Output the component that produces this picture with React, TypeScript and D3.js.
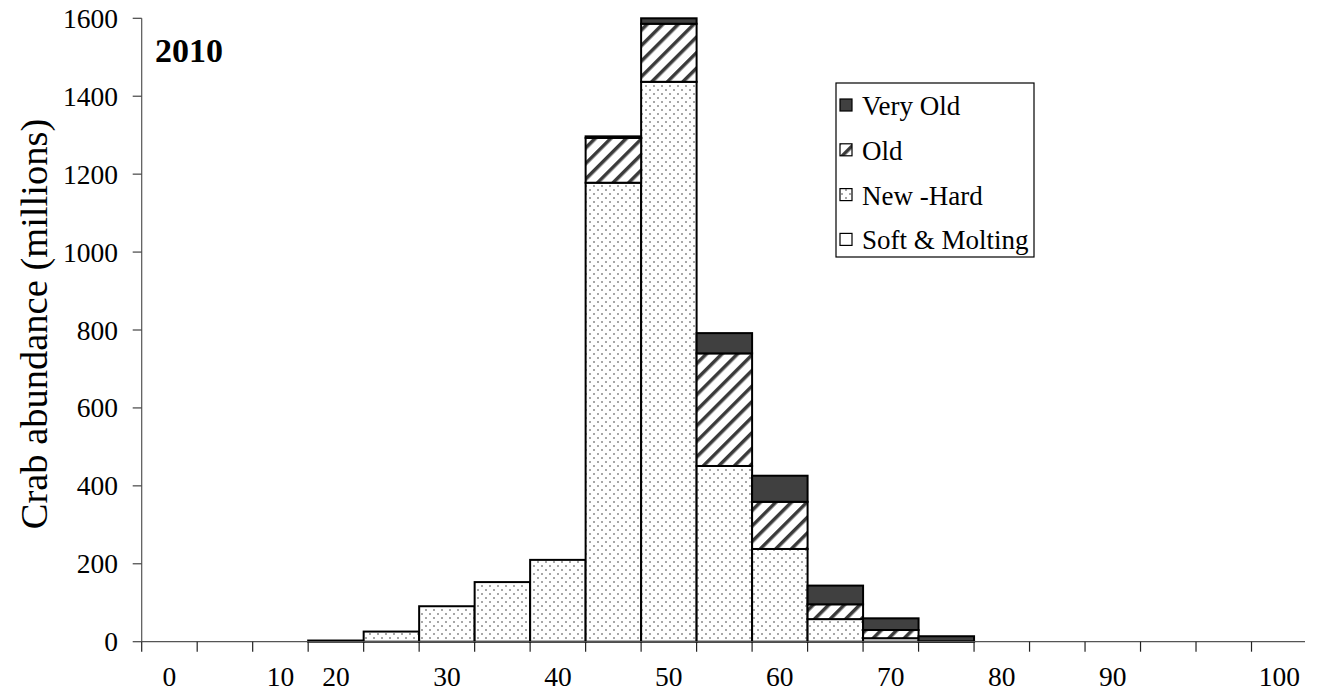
import React from "react";
import * as d3 from "d3";

const categories = ["0", "", "10", "20", "", "30", "", "40", "", "50", "", "60", "", "70", "", "80", "", "90", "", "", "100"];
const softMolting = [0, 0, 0, 0, 0, 0, 0, 0, 0, 0, 0, 0, 0, 0, 0, 0, 0, 0, 0, 0, 0];
const newHard = [0, 0, 0, 3, 26, 91, 153, 210, 1178, 1437, 451, 238, 58, 9, 0, 0, 0, 0, 0, 0, 0];
const old = [0, 0, 0, 0, 0, 0, 0, 0, 115, 149, 289, 121, 38, 21, 1, 0, 0, 0, 0, 0, 0];
const veryOld = [0, 0, 0, 0, 0, 0, 0, 0, 4, 14, 52, 67, 48, 30, 13, 0, 0, 0, 0, 0, 0];
const yTicks = [0, 200, 400, 600, 800, 1000, 1200, 1400, 1600];
const seriesNames = ["Soft & Molting", "New -Hard", "Old", "Very Old"];
const legendOrder = ["Very Old", "Old", "New -Hard", "Soft & Molting"];
const title = "2010";
const yLabel = "Crab abundance (millions)";

const fills: Record<string, string> = {
  "Soft & Molting": "#ffffff",
  "New -Hard": "url(#dots)",
  "Old": "url(#stripes)",
  "Very Old": "#404040",
};

const FONT = "'Liberation Serif', 'Times New Roman', serif";

export default function App() {
  const left = 141.7, right = 1307, top = 18.3, bottom = 641.7;
  const idx = categories.map((_, i) => String(i));
  const x = d3.scaleBand().domain(idx).range([left, right]).padding(0);
  const y = d3.scaleLinear().domain([0, 1600]).range([bottom, top]);

  const rows = categories.map((c, i) => ({
    key: String(i),
    "Soft & Molting": softMolting[i],
    "New -Hard": newHard[i],
    "Old": old[i],
    "Very Old": veryOld[i],
  }));
  const stacked = d3.stack<any>().keys(seriesNames)(rows);
  const bw = x.bandwidth();
  const boundaries = d3.range(categories.length + 1).map((i) => left + i * bw);

  const legendX = 836, legendY = 83, legendW = 198, legendH = 174;

  return (
    <svg width={1305} height={694} style={{ display: "block", margin: "-8px 0 0 -8px" }}>
      <defs>
        <pattern id="dots" width="8" height="8" patternUnits="userSpaceOnUse">
          <rect width="8" height="8" fill="#ffffff" />
          <circle cx="2" cy="2" r="1" fill="#8a8a8a" />
          <circle cx="6" cy="6" r="1" fill="#8a8a8a" />
        </pattern>
        <pattern id="stripes" width="11" height="11" patternUnits="userSpaceOnUse" patternTransform="rotate(45)">
          <rect width="11" height="11" fill="#ffffff" />
          <rect x="0" y="0" width="3.5" height="11" fill="#3a3a3a" />
        </pattern>
      </defs>
      <g>
        {stacked.map((s) =>
          s.map((d, i) => {
            const v = d[1] - d[0];
            if (v <= 0) return null;
            const y0 = y(d[0]);
            const y1 = y(d[1]);
            return (
              <rect
                key={s.key + i}
                x={x(String(i))}
                y={y1}
                width={bw}
                height={Math.max(0.5, y0 - y1)}
                fill={fills[s.key as string]}
                stroke="#000"
                strokeWidth={2}
              />
            );
          })
        )}
      </g>
      {/* axes */}
      <line x1={left} x2={left} y1={top} y2={bottom} stroke="#555" strokeWidth={1.2} />
      <line x1={left} x2={right} y1={bottom} y2={bottom} stroke="#555" strokeWidth={1.2} />
      {yTicks.map((t) => (
        <g key={t}>
          <line x1={left - 9} x2={left} y1={y(t)} y2={y(t)} stroke="#444" strokeWidth={1.2} />
          <text x={118} y={y(t) + 9.5} textAnchor="end" fontFamily={FONT} fontSize={27.5} fill="#000">
            {t}
          </text>
        </g>
      ))}
      {boundaries.map((bx, i) => (
        <line key={i} x1={bx} x2={bx} y1={bottom} y2={bottom + 10} stroke="#222" strokeWidth={1.2} />
      ))}
      {categories.map((c, i) =>
        c ? (
          <text
            key={i}
            x={(x(String(i)) as number) + bw / 2}
            y={686}
            textAnchor="middle"
            fontFamily={FONT}
            fontSize={27.5}
            fill="#000"
          >
            {c}
          </text>
        ) : null
      )}
      <text
        transform={`translate(47, 324) rotate(-90)`}
        textAnchor="middle"
        fontFamily={FONT}
        fontSize={38.5}
        fill="#000"
      >
        {yLabel}
      </text>
      <text x={155} y={62} fontFamily={FONT} fontSize={34} fontWeight="bold" fill="#000">
        {title}
      </text>
      {/* legend */}
      <rect x={legendX} y={legendY} width={legendW} height={legendH} fill="#fff" stroke="#000" strokeWidth={1.2} />
      {legendOrder.map((name, i) => {
        const cy = 105.5 + i * 44.8;
        return (
          <g key={name}>
            <rect x={840} y={cy - 6.5} width={12} height={12} fill={fills[name]} stroke="#000" strokeWidth={1.2} />
            <text x={862} y={cy + 9.5} fontFamily={FONT} fontSize={27} fill="#000">
              {name}
            </text>
          </g>
        );
      })}
    </svg>
  );
}
